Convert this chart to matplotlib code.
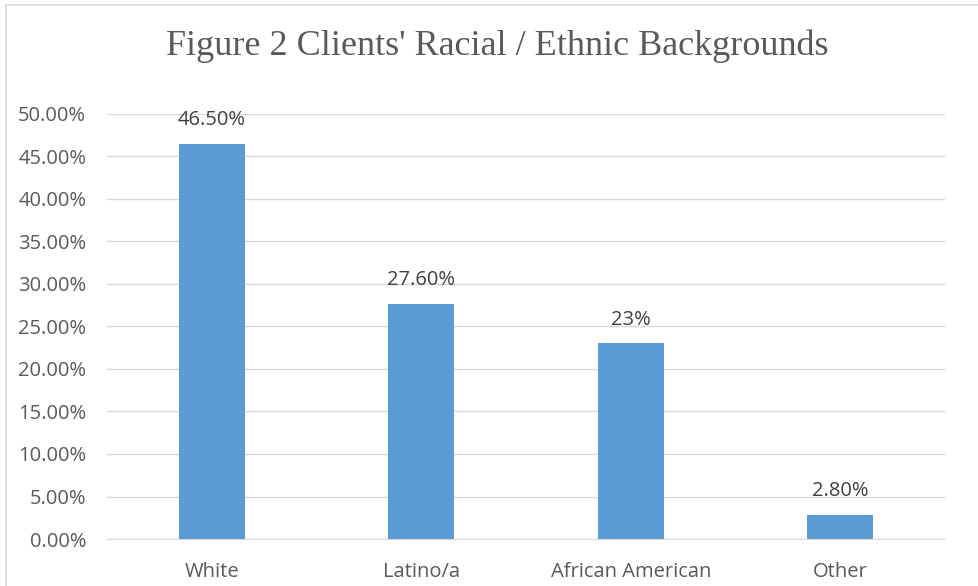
import matplotlib

matplotlib.use("Agg")
import matplotlib.pyplot as plt
from matplotlib.patches import Rectangle
from matplotlib.ticker import FuncFormatter

categories = ["White", "Latino/a", "African American", "Other"]
shares = [46.5, 27.6, 23.0, 2.8]
value_labels = ["46.50%", "27.60%", "23%", "2.80%"]

BAR_COLOR = "#5B9BD5"
TEXT_COLOR = "#595959"
LABEL_COLOR = "#404040"
GRID_COLOR = "#D9D9D9"

fig = plt.figure(figsize=(9.79, 5.86), dpi=100, facecolor="white")
ax = fig.add_axes([0.1093, 0.0802, 0.856, 0.7253])

x = range(len(categories))
bars = ax.bar(x, shares, width=0.315, color=BAR_COLOR, zorder=3)
for bar, text in zip(bars, value_labels):
    ax.annotate(text, (bar.get_x() + bar.get_width() / 2, bar.get_height()),
                xytext=(0, 10), textcoords="offset points", ha="center", va="bottom",
                fontsize=14.5, color=LABEL_COLOR, family="Open Sans")

ax.set_xlim(-0.5, len(categories) - 0.5)
ax.set_ylim(0, 50)
ax.set_yticks(range(0, 51, 5))
ax.yaxis.set_major_formatter(FuncFormatter(lambda v, _: f"{v:.2f}%"))
ax.set_xticks(list(x))
ax.set_xticklabels(categories)
ax.grid(axis="y", color=GRID_COLOR, linewidth=1.0, zorder=0)
for side in ["top", "right", "left"]:
    ax.spines[side].set_visible(False)
ax.spines["bottom"].set_color(GRID_COLOR)
ax.tick_params(axis="both", length=0, labelsize=14.5, labelcolor=TEXT_COLOR)
ax.tick_params(axis="y", pad=15)
ax.tick_params(axis="x", pad=16.5)
for lab in ax.get_xticklabels() + ax.get_yticklabels():
    lab.set_family("Open Sans")

fig.text(0.5075, 0.921, "Figure 2 Clients' Racial / Ethnic Backgrounds", ha="center", va="center",
         fontsize=26, color=TEXT_COLOR, family="Liberation Serif")

fig.patches.append(Rectangle((0.0065, -0.02), 1.1, 1.011, transform=fig.transFigure,
                             fill=False, edgecolor=GRID_COLOR, linewidth=1.2))

fig.savefig("out.png", dpi=100, facecolor="white")
